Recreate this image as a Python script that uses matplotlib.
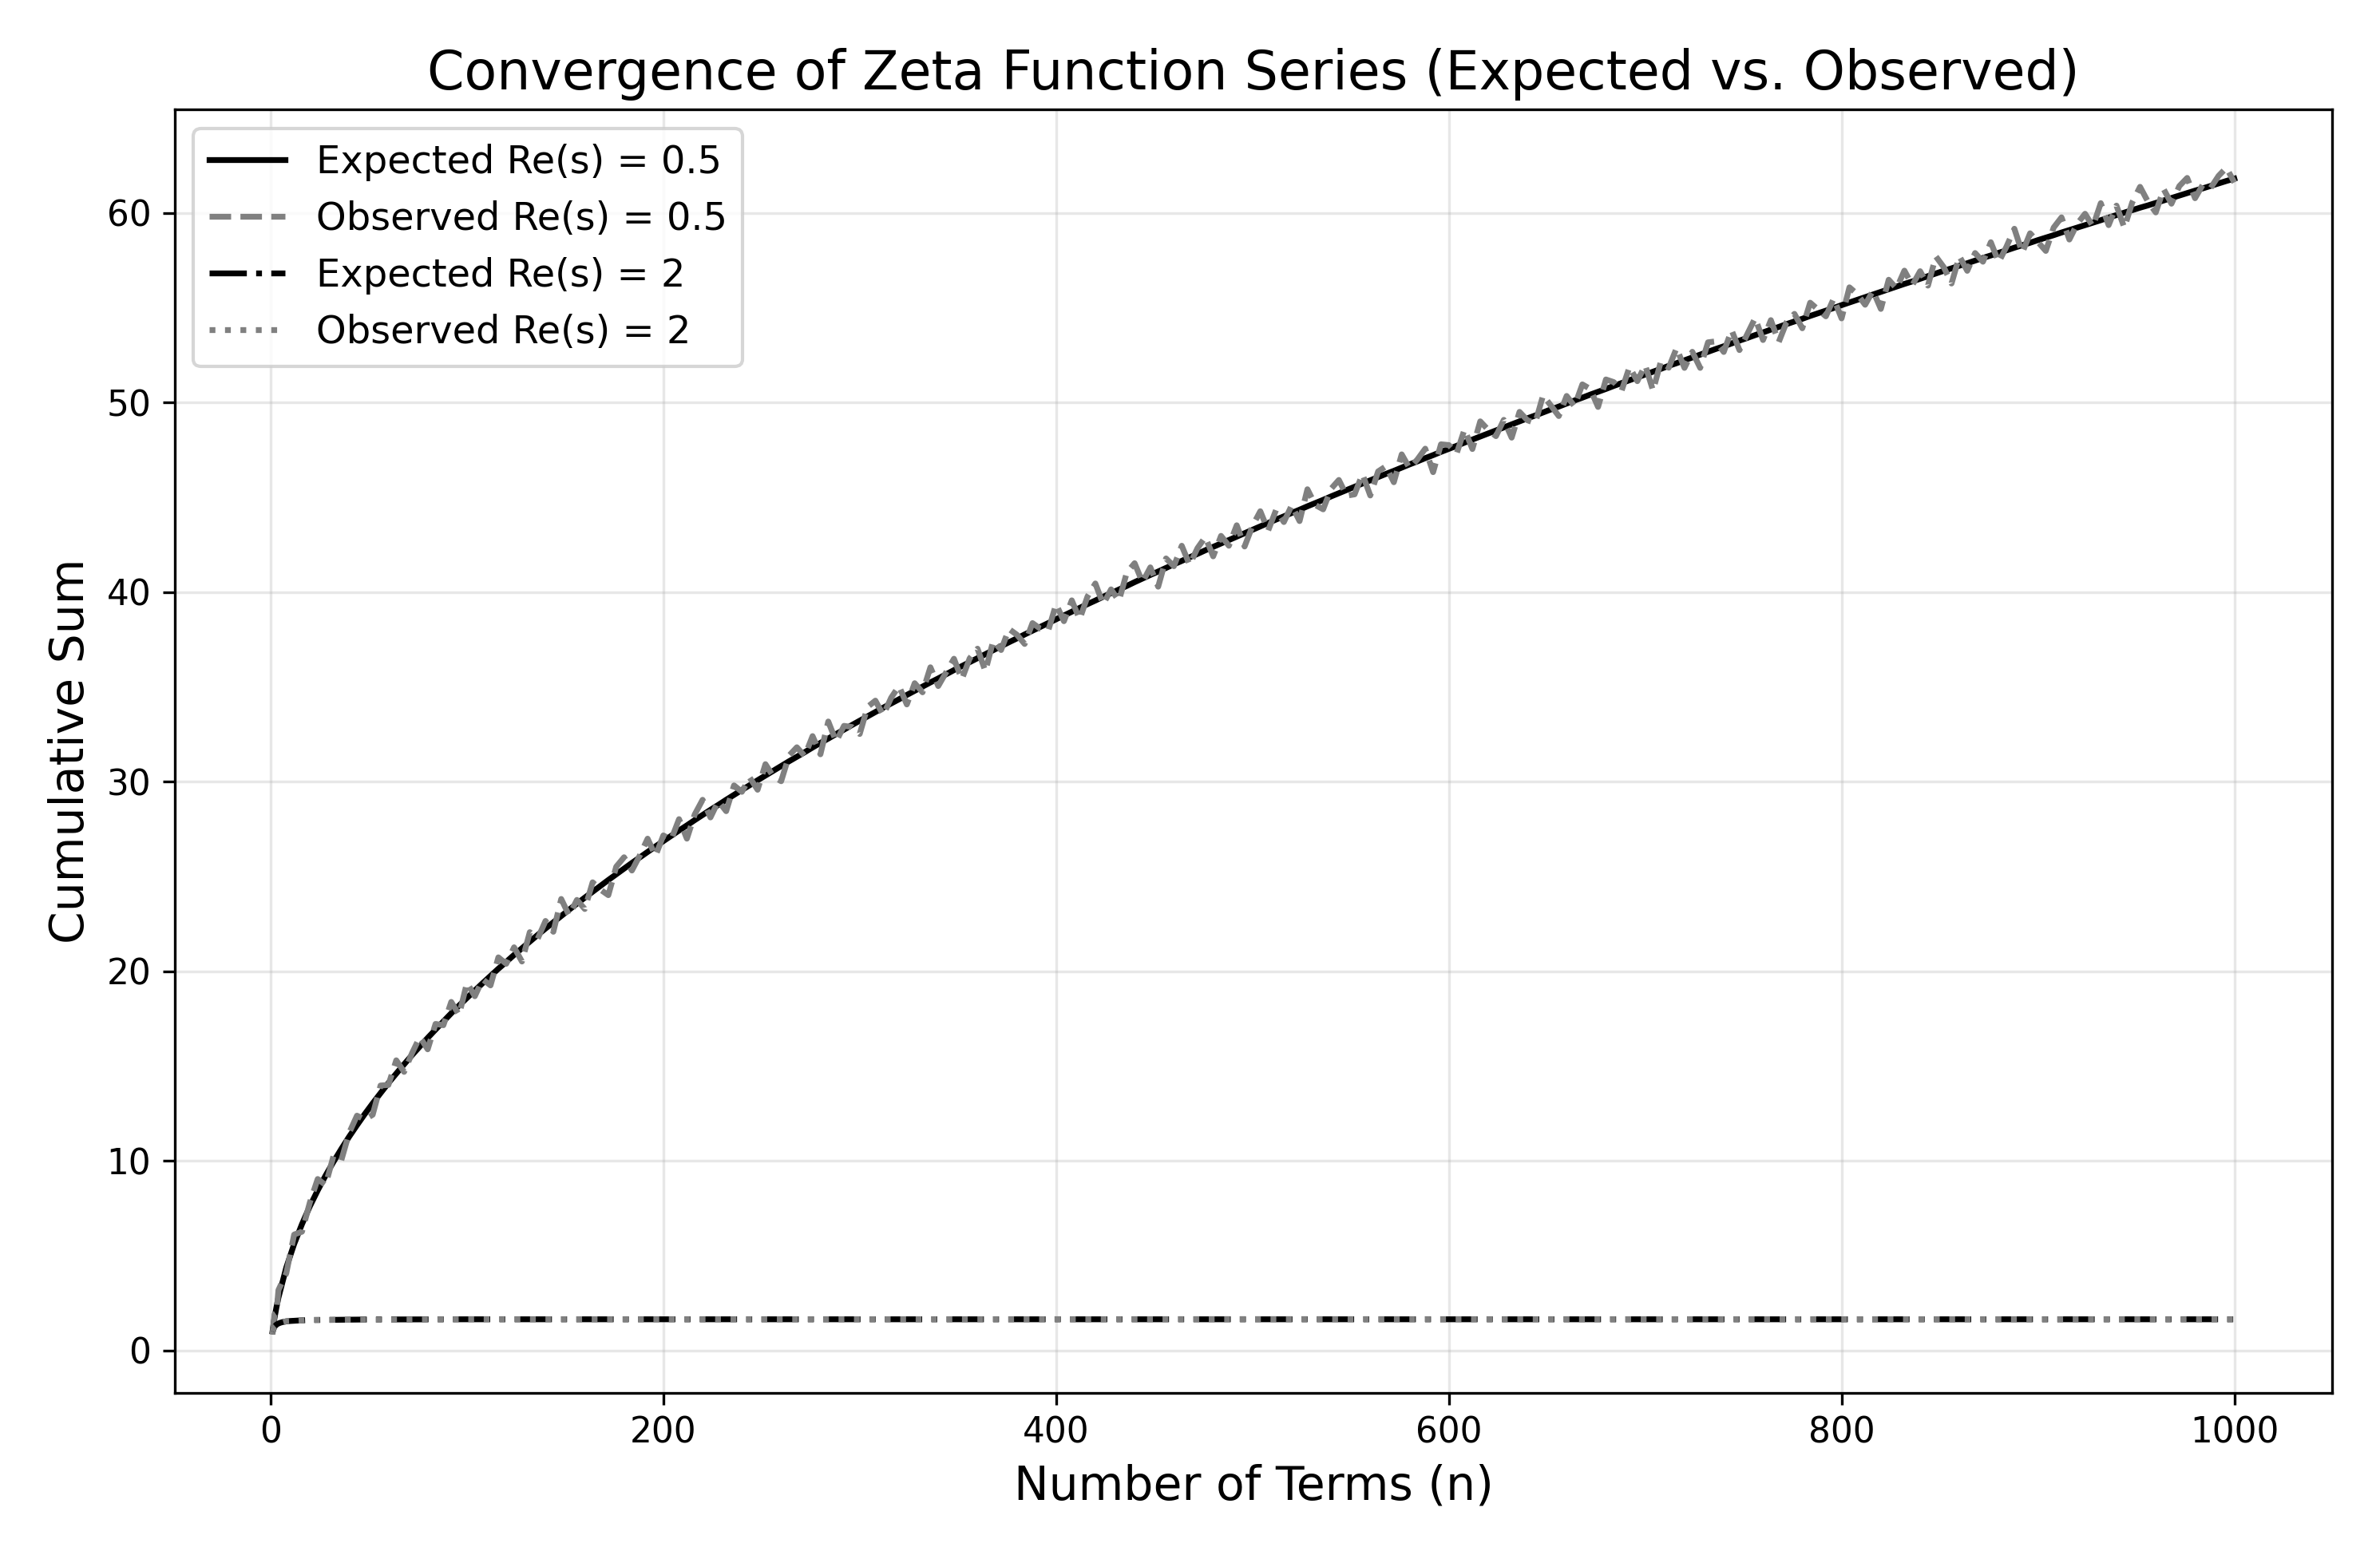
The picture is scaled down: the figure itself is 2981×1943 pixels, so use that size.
import matplotlib
matplotlib.use("Agg")
import matplotlib.pyplot as plt
import numpy as np

# ---- data -------------------------------------------------------------
# Re(s) = 0.5 : partial sums at n = 1, 2, 3, 4, 8, 12, ..., 1000
n_half = [1, 2, 3] + list(range(4, 1001, 4))
expected_half = [
    1.00, 1.71, 2.28,
    2.78, 4.37, 5.61, 6.66, 7.60, 8.44, 9.22, 9.94, 10.62, 11.27,
    11.88, 12.47, 13.03, 13.57, 14.10, 14.60, 15.09, 15.57, 16.03, 16.48,
    16.92, 17.35, 17.78, 18.19, 18.59, 18.98, 19.37, 19.75, 20.13, 20.49,
    20.86, 21.21, 21.56, 21.91, 22.25, 22.58, 22.91, 23.24, 23.56, 23.88,
    24.19, 24.50, 24.81, 25.11, 25.41, 25.71, 26.00, 26.29, 26.58, 26.86,
    27.14, 27.42, 27.69, 27.97, 28.24, 28.51, 28.77, 29.04, 29.30, 29.56,
    29.81, 30.07, 30.32, 30.57, 30.82, 31.07, 31.31, 31.55, 31.80, 32.04,
    32.27, 32.51, 32.74, 32.98, 33.21, 33.44, 33.67, 33.90, 34.12, 34.34,
    34.57, 34.79, 35.01, 35.23, 35.44, 35.66, 35.88, 36.09, 36.30, 36.51,
    36.72, 36.93, 37.14, 37.35, 37.55, 37.76, 37.96, 38.16, 38.36, 38.56,
    38.76, 38.96, 39.16, 39.36, 39.55, 39.75, 39.94, 40.13, 40.32, 40.52,
    40.71, 40.90, 41.08, 41.27, 41.46, 41.64, 41.83, 42.01, 42.20, 42.38,
    42.56, 42.74, 42.92, 43.10, 43.28, 43.46, 43.64, 43.82, 43.99, 44.17,
    44.34, 44.52, 44.69, 44.86, 45.04, 45.21, 45.38, 45.55, 45.72, 45.89,
    46.06, 46.23, 46.39, 46.56, 46.73, 46.89, 47.06, 47.22, 47.39, 47.55,
    47.71, 47.88, 48.04, 48.20, 48.36, 48.52, 48.68, 48.84, 49.00, 49.16,
    49.31, 49.47, 49.63, 49.78, 49.94, 50.10, 50.25, 50.41, 50.56, 50.71,
    50.87, 51.02, 51.17, 51.32, 51.47, 51.62, 51.77, 51.93, 52.07, 52.22,
    52.37, 52.52, 52.67, 52.82, 52.96, 53.11, 53.26, 53.40, 53.55, 53.69,
    53.84, 53.98, 54.13, 54.27, 54.41, 54.56, 54.70, 54.84, 54.98, 55.13,
    55.27, 55.41, 55.55, 55.69, 55.83, 55.97, 56.11, 56.25, 56.38, 56.52,
    56.66, 56.80, 56.94, 57.07, 57.21, 57.34, 57.48, 57.62, 57.75, 57.89,
    58.02, 58.16, 58.29, 58.42, 58.56, 58.69, 58.82, 58.96, 59.09, 59.22,
    59.35, 59.48, 59.61, 59.75, 59.88, 60.01, 60.14, 60.27, 60.39, 60.52,
    60.65, 60.78, 60.91, 61.04, 61.17, 61.29, 61.42, 61.55, 61.68, 61.80,
]
observed_half_offset = [
    -0.16, 0.2, -0.3,
    0.4, -0.3, 0.5, -0.4, 0.2, 0.6, -0.5, 0.3, -0.6, 0.2,
    0.5, -0.3, -0.6, 0.4, -0.1, 0.7, -0.4, 0.1, 0.5, -0.6,
    0.3, -0.2, 0.6, -0.5, 0.8, -0.3, 0.2, -0.5, 0.6, -0.1,
    0.4, -0.7, 0.5, -0.2, 0.4, -0.5, 0.9, -0.3, 0.2, -0.6,
    0.5, -0.2, -0.8, 0.4, 0.6, -0.4, 0.1, 0.7, -0.5, 0.3,
    -0.2, 0.6, -0.7, 0.3, 0.8, -0.4, 0.2, -0.6, 0.5, -0.1,
    0.4, -0.5, 0.6, -0.3, -0.8, 0.3, 0.5, -0.2, 0.6, -0.6,
    0.9, -0.4, 0.2, -0.1, -0.7, 0.5, 0.6, -0.4, 0.3, 0.7,
    -0.5, 0.4, -0.3, 0.8, -0.4, 0.1, 0.6, -0.7, 0.2, 0.5,
    -0.9, 0.5, -0.2, 0.7, 0.2, -0.5, 0.4, -0.1, -0.4, 0.8,
    -0.3, 0.6, -0.6, 0.4, 0.9, -0.4, 0.2, -0.6, 0.7, 1.0,
    -0.2, 0.4, -0.8, 0.5, -0.1, 0.8, -0.4, 0.3, 0.7, -0.5,
    0.4, -0.3, 0.6, -0.7, 0.2, 0.8, -0.4, 0.5, -0.3, 0.4,
    -0.6, 0.9, -0.1, -0.5, 0.4, 0.7, -0.3, -0.4, 0.5, -0.8,
    0.3, 0.4, -0.6, 0.7, -0.2, 0.1, 0.5, -0.9, 0.4, 0.2,
    -0.4, 0.7, -0.5, 0.8, 0.2, -0.3, 0.4, -0.7, 0.5, -0.1,
    -0.4, 0.9, 0.2, -0.5, 0.4, -0.3, 0.7, 0.3, -0.8, 0.5,
    0.2, -0.4, 0.7, -0.2, 0.5, -1.0, 0.4, -0.1, 0.8, -0.4,
    0.3, -0.7, 0.5, 0.4, -0.3, 0.7, -0.5, 0.2, 0.9, -0.4,
    0.5, -0.8, 0.1, 0.4, -0.5, 0.7, 0.2, -0.3, 0.5, -0.7,
    0.8, 0.3, -0.4, 0.2, -0.9, 0.5, -0.1, 0.7, -0.2, 0.4,
    -0.5, 0.9, 0.2, -0.8, 0.5, -0.4, 0.4, -0.2, 0.7, -0.5,
    0.2, 1.0, -0.4, 0.5, -0.1, -0.7, 0.4, 0.8, -0.5, 0.2,
    0.6, -0.2, 0.9, -0.4, 0.5, -0.8, 0.4, 1.1, 0.2, -0.5,
    0.6, -0.3, 0.5, 0.8, -0.4, 0.2, -0.1, 0.4, 0.7, -0.2,
]

# Re(s) = 2 : partial sums (converge to ~1.645)
n_two = [1, 2, 3, 4, 5, 6, 8, 10, 15, 20, 30, 50, 100, 200, 500, 1000]
expected_two = [1.00, 1.25, 1.36, 1.42, 1.46, 1.49, 1.53, 1.55,
                1.58, 1.60, 1.61, 1.63, 1.64, 1.64, 1.64, 1.64]
observed_two_offset = [0.0, 0.01, -0.01, 0.01, 0.0, -0.01, 0.01, 0.0,
                       -0.01, 0.01, 0.0, -0.01, 0.01, 0.0, 0.01, 0.0]

labels = ["Expected Re(s) = 0.5", "Observed Re(s) = 0.5",
          "Expected Re(s) = 2", "Observed Re(s) = 2"]

title = "Convergence of Zeta Function Series (Expected vs. Observed)"
xlabel = "Number of Terms (n)"
ylabel = "Cumulative Sum"

# ---- plot -------------------------------------------------------------
observed_half = np.array(expected_half) + np.array(observed_half_offset)
observed_two = np.array(expected_two) + np.array(observed_two_offset)

fig = plt.figure(figsize=(2981 / 300, 1943 / 300), dpi=300)
ax = fig.add_axes([0.0733, 0.102, 0.980 - 0.0733, 0.9295 - 0.102])

LW = 1.75
ax.plot(n_half, expected_half, color="black", linestyle="-", lw=LW, label=labels[0])
ax.plot(n_half, observed_half, color="gray", linestyle="--", lw=LW, label=labels[1])
ax.plot(n_two, expected_two, color="black", linestyle="-.", lw=LW, label=labels[2])
ax.plot(n_two, observed_two, color="gray", linestyle=":", lw=LW, label=labels[3])

ax.set_title(title, fontsize=16)
ax.set_xlabel(xlabel, fontsize=14)
ax.set_ylabel(ylabel, fontsize=14)
ax.tick_params(labelsize=10.5)
ax.grid(True, linestyle="-", alpha=0.3)
ax.legend(loc="upper left", fontsize=11.5)

fig.savefig("out.png", dpi=300)
